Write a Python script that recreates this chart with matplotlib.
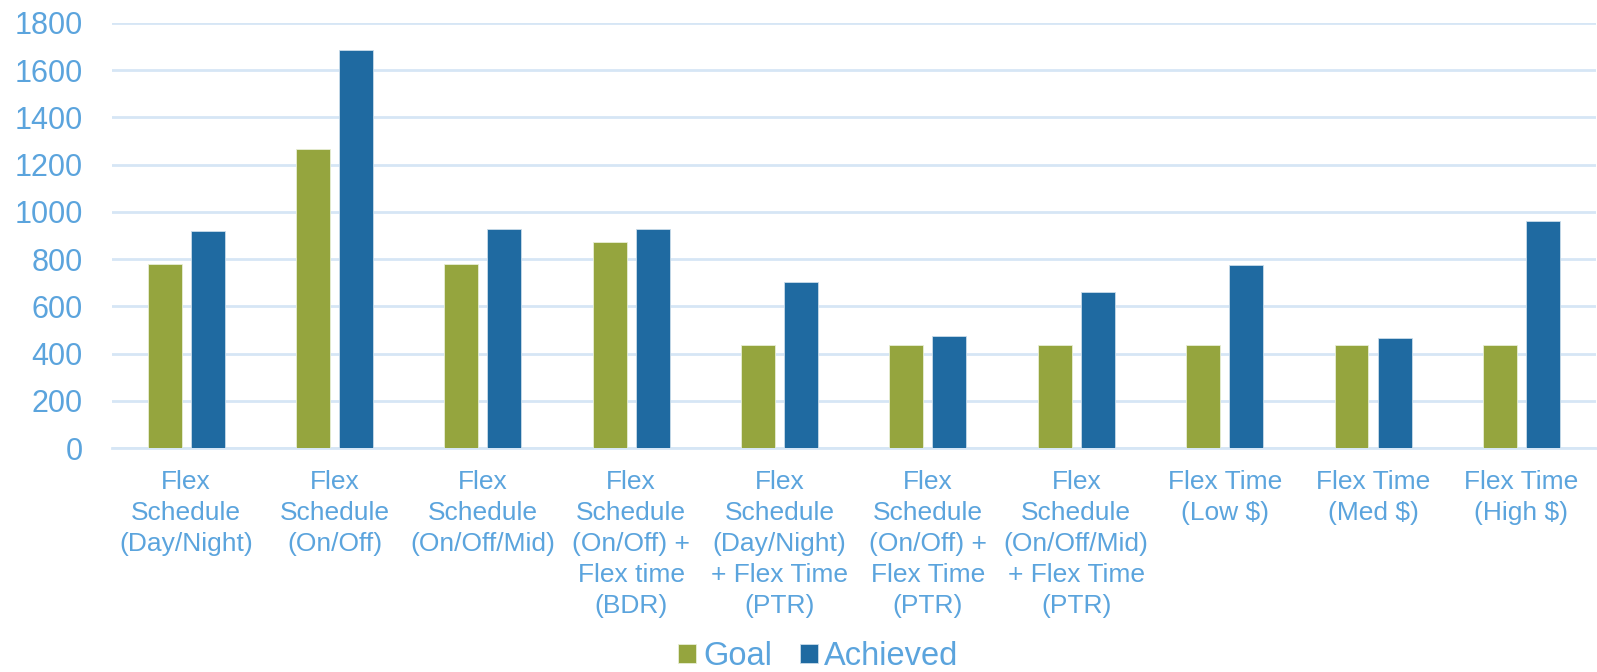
import matplotlib
matplotlib.use("Agg")
import matplotlib.pyplot as plt
import numpy as np

# Data
categories = [
    "Flex\nSchedule\n(Day/Night)",
    "Flex\nSchedule\n(On/Off)",
    "Flex\nSchedule\n(On/Off/Mid)",
    "Flex\nSchedule\n(On/Off) +\nFlex time\n(BDR)",
    "Flex\nSchedule\n(Day/Night)\n+ Flex Time\n(PTR)",
    "Flex\nSchedule\n(On/Off) +\nFlex Time\n(PTR)",
    "Flex\nSchedule\n(On/Off/Mid)\n+ Flex Time\n(PTR)",
    "Flex Time\n(Low $)",
    "Flex Time\n(Med $)",
    "Flex Time\n(High $)",
]
goal = [780, 1265, 780, 872, 437, 437, 437, 437, 437, 437]
achieved = [921, 1686, 926, 929, 704, 474, 660, 775, 468, 961]
yticks = [0, 200, 400, 600, 800, 1000, 1200, 1400, 1600, 1800]

text_col = "#5ba4dd"
grid_col = "#d6e6f5"
green = "#95a53e"
blue = "#1f6aa1"

plt.rcParams["font.family"] = ["Liberation Sans", "DejaVu Sans"]

fig = plt.figure(figsize=(15.97, 6.72), dpi=100)
ax = fig.add_axes([0.0701, 0.3333, 0.929, 0.6325])

x = np.arange(len(categories))
w = 0.229
off = 0.145
ax.bar(x - off, goal, w, color=green, edgecolor="#e8eed5", linewidth=0.6, label="Goal", zorder=3)
ax.bar(x + off, achieved, w, color=blue, edgecolor="#c9dcea", linewidth=0.6, label="Achieved", zorder=3)

ax.set_xlim(-0.5, len(categories) - 0.5)
ax.set_ylim(0, 1800)
ax.set_yticks(yticks)
ax.yaxis.grid(True, color=grid_col, linewidth=2.0, zorder=0)
ax.set_axisbelow(True)
for s in ["top", "right", "left"]:
    ax.spines[s].set_visible(False)
ax.spines["bottom"].set_color(grid_col)
ax.spines["bottom"].set_linewidth(2.0)

ax.set_xticks(x)
ax.set_xticklabels(categories, fontsize=19, color=text_col, linespacing=1.37, va="top")
ax.tick_params(axis="x", length=0, pad=15.5)
ax.tick_params(axis="y", length=0, pad=21, labelsize=22, labelcolor=text_col)

leg = fig.legend(loc="center", bbox_to_anchor=(0.5125, 0.023), ncol=2, frameon=False,
                 fontsize=23.5, handlelength=0.55, handleheight=0.55,
                 handletextpad=0.2, columnspacing=0.85, borderpad=0.2)
for t in leg.get_texts():
    t.set_color(text_col)

fig.savefig("out.png", dpi=100)
